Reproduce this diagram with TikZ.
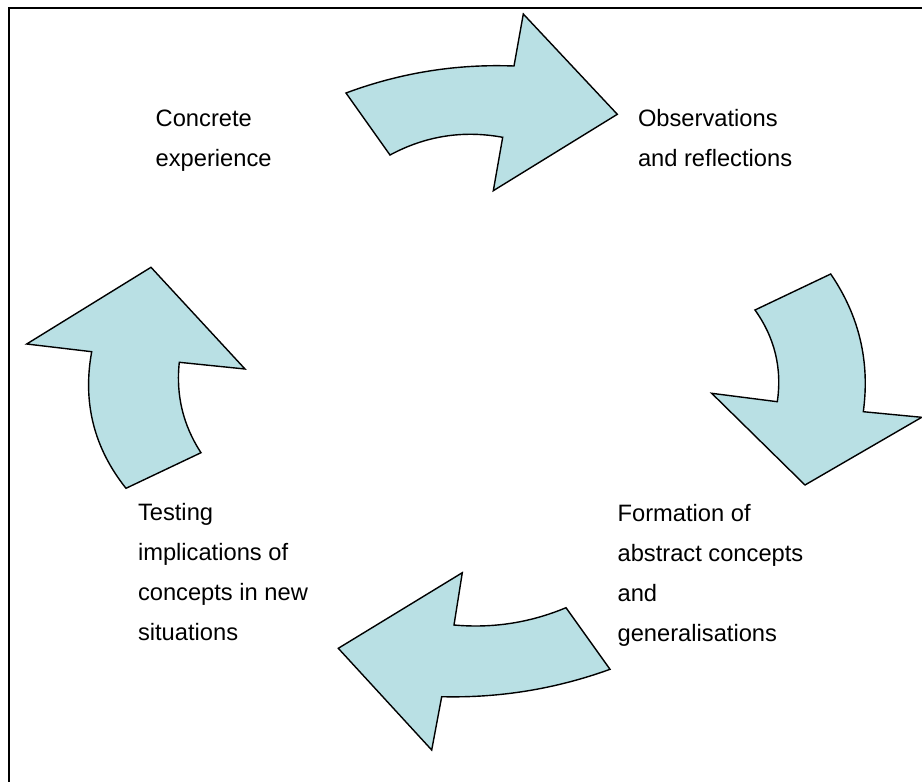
\documentclass[tikz,border=0pt]{standalone}
\usepackage{fontspec}
\setmainfont{Liberation Sans}
\definecolor{arrowfill}{RGB}{185,224,228}
\begin{document}
\begin{tikzpicture}[x=1pt,y=-1pt,
  bigarrow/.style={draw=black, line width=1.4pt, fill=arrowfill, line join=miter},
  stagelabel/.style={font=\fontsize{23.7}{40}\selectfont, align=left, anchor=base west, inner sep=0pt}]
\useasboundingbox (0,0) rectangle (922,782);
% frame (only top and left edges fall inside the picture)
\draw[line width=2pt] (9,782) -- (9,7.5) -- (922,7.5);
% top arrow
\draw[bigarrow] (346,93) .. controls (400.2,72.8) and (456.2,63.8) .. (514,66) -- (523.3,14) -- (617.3,114.3)
  -- (493.3,190.7) -- (502.7,137.3) .. controls (463.1,130.0) and (425.5,135.9) .. (390,155) -- cycle;
% right arrow
\draw[bigarrow] (830.7,274) .. controls (859.2,315.7) and (870.1,361.6) .. (863.3,411.7) -- (921.7,417.3)
  -- (805,485) -- (711.7,393.3) -- (777.3,401.7) .. controls (782.2,368.2) and (774.7,337.6) .. (755,310) -- cycle;
% bottom arrow
\draw[bigarrow] (610,669.3) .. controls (555.6,689.0) and (499.5,698.1) .. (441.7,696.7) -- (431.7,750)
  -- (338.3,648.3) -- (462.3,572.7) -- (454,625) .. controls (492.7,628.5) and (530.1,622.7) .. (566,607.7) -- cycle;
% left arrow
\draw[bigarrow] (201,452.7) .. controls (183.0,425.2) and (175.8,395.0) .. (179.3,362.3) -- (245,369)
  -- (151,267.3) -- (26.7,344) -- (91.7,351.7) .. controls (82.4,402.4) and (93.9,448.0) .. (126,488.3) -- cycle;
% labels (base anchor = baseline of the last line)
\node[stagelabel] (concrete) at (155.5,166) {Concrete\\experience};
\node[stagelabel] (observ) at (637.8,166) {Observations\\and reflections};
\node[stagelabel] (formation) at (617.4,641) {Formation of\\abstract concepts\\and\\generalisations};
\node[stagelabel] (testing) at (137.8,640.7) {Testing\\implications of\\concepts in new\\situations};
\end{tikzpicture}
\end{document}
